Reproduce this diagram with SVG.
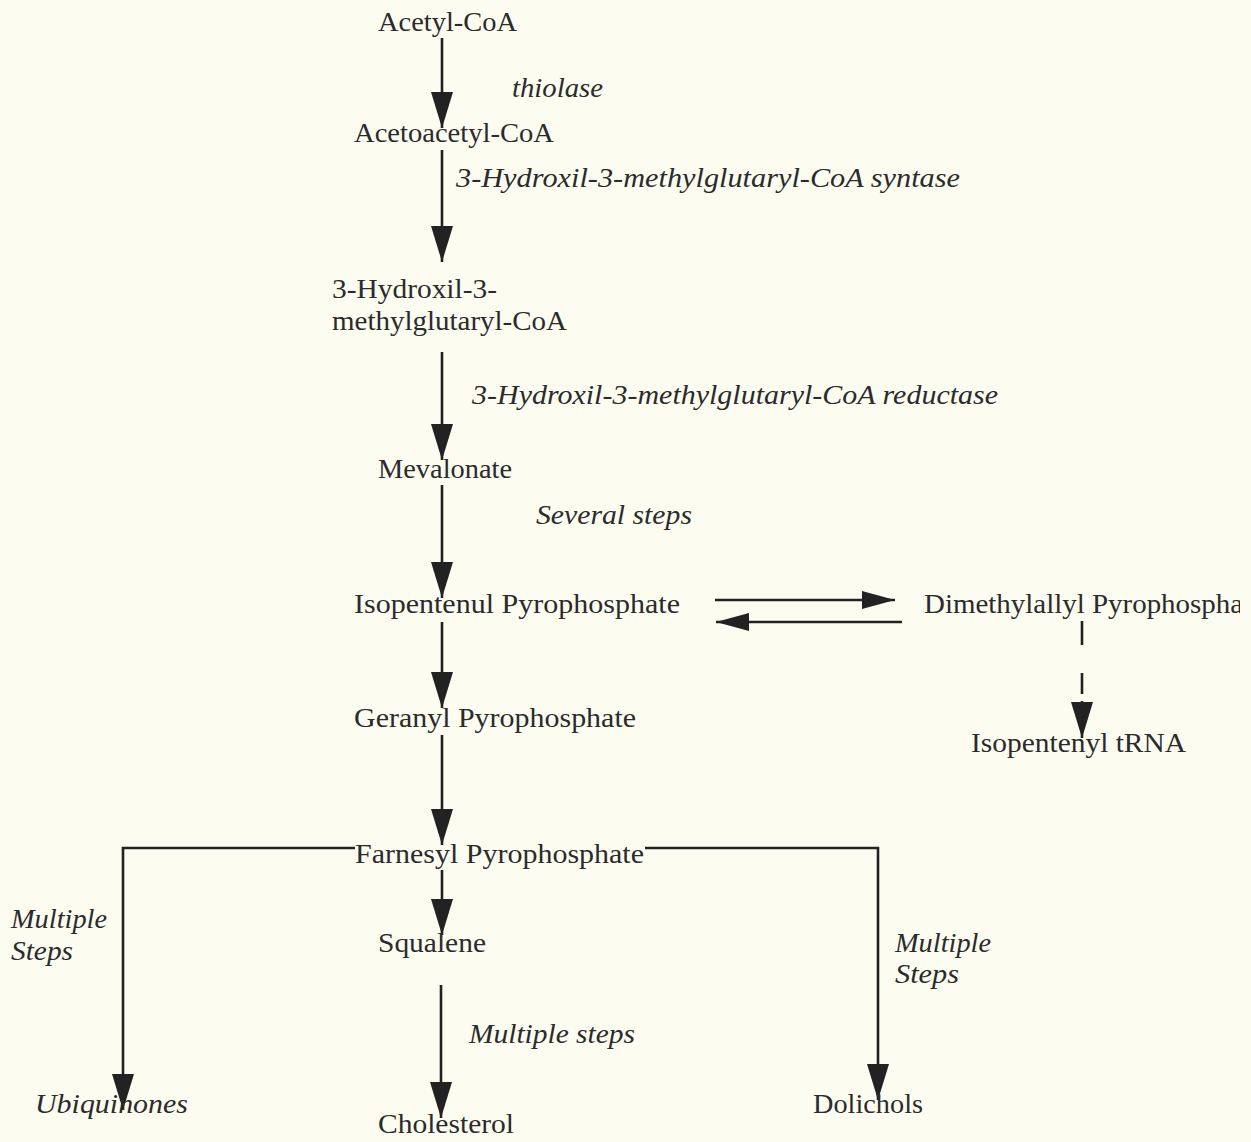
<svg xmlns="http://www.w3.org/2000/svg" width="1251" height="1142" viewBox="0 0 1251 1142">
<defs>
<style>
.n{font-family:"Liberation Serif","Times New Roman",serif;font-size:28px;fill:#2b2b2b}
.e{font-family:"Liberation Serif","Times New Roman",serif;font-size:27px;font-style:italic;fill:#2b2b2b}
.c{stroke:#222;stroke-width:2.6;fill:none}
.d{stroke-dasharray:24 28}
</style>
<marker id="ah" viewBox="0 -11 36 22" refX="36" refY="0" markerWidth="36" markerHeight="22" markerUnits="userSpaceOnUse" orient="auto">
<path d="M0,-11 L36,0 L0,11 z" fill="#222"/>
</marker>
<marker id="ahh" viewBox="0 -9 33 18" refX="33" refY="0" markerWidth="33" markerHeight="18" markerUnits="userSpaceOnUse" orient="auto">
<path d="M0,-9 L33,0 L0,9 z" fill="#222"/>
</marker>
<clipPath id="clipR"><rect x="0" y="0" width="1240" height="1142"/></clipPath>
</defs>
<rect x="0" y="0" width="1251" height="1142" fill="#fcfcf1"/>
<g id="connectors">
<line class="c" x1="442" y1="38" x2="442" y2="128" marker-end="url(#ah)"/>
<line class="c" x1="442" y1="150" x2="442" y2="262" marker-end="url(#ah)"/>
<line class="c" x1="442" y1="352" x2="442" y2="460" marker-end="url(#ah)"/>
<line class="c" x1="442" y1="485" x2="442" y2="598" marker-end="url(#ah)"/>
<line class="c" x1="442" y1="622" x2="442" y2="708" marker-end="url(#ah)"/>
<line class="c" x1="442" y1="735" x2="442" y2="845" marker-end="url(#ah)"/>
<line class="c" x1="442" y1="870" x2="442" y2="935" marker-end="url(#ah)"/>
<line class="c" x1="441" y1="985" x2="441" y2="1118" marker-end="url(#ah)"/>
<line class="c" x1="715" y1="600" x2="895" y2="600" marker-end="url(#ahh)"/>
<line class="c" x1="902" y1="622" x2="716" y2="622" marker-end="url(#ahh)"/>
<line class="c d" x1="1082" y1="621" x2="1082" y2="694"/>
<path class="c" d="M1082,701 L1082,738" marker-end="url(#ah)"/>
<path class="c" d="M355,848 L123,848 L123,1110" marker-end="url(#ah)"/>
<path class="c" d="M645,848 L878,848 L878,1100" marker-end="url(#ah)"/>
</g>
<g id="acetyl-coa"><text class="n" x="378" y="31" textLength="139" lengthAdjust="spacingAndGlyphs">Acetyl-CoA</text></g>
<g id="thiolase"><text class="e" x="512" y="97" textLength="91" lengthAdjust="spacingAndGlyphs">thiolase</text></g>
<g id="acetoacetyl-coa"><text class="n" x="354" y="142" textLength="200" lengthAdjust="spacingAndGlyphs">Acetoacetyl-CoA</text></g>
<g id="hmg-syntase"><text class="e" x="456" y="187" textLength="504" lengthAdjust="spacingAndGlyphs">3-Hydroxil-3-methylglutaryl-CoA syntase</text></g>
<g id="hmg-coa"><text class="n" x="332" y="298" textLength="165" lengthAdjust="spacingAndGlyphs">3-Hydroxil-3-</text><text class="n" x="332" y="330" textLength="235" lengthAdjust="spacingAndGlyphs">methylglutaryl-CoA</text></g>
<g id="hmg-reductase"><text class="e" x="472" y="404" textLength="526" lengthAdjust="spacingAndGlyphs">3-Hydroxil-3-methylglutaryl-CoA reductase</text></g>
<g id="mevalonate"><text class="n" x="378" y="478" textLength="134" lengthAdjust="spacingAndGlyphs">Mevalonate</text></g>
<g id="several-steps"><text class="e" x="536" y="524" textLength="156" lengthAdjust="spacingAndGlyphs">Several steps</text></g>
<g id="ipp"><text class="n" x="354" y="613" textLength="326" lengthAdjust="spacingAndGlyphs">Isopentenul Pyrophosphate</text></g>
<g id="dmapp"><text class="n" x="924" y="613" textLength="340" lengthAdjust="spacingAndGlyphs" clip-path="url(#clipR)">Dimethylallyl Pyrophosphate</text></g>
<g id="isopentenyl-trna"><text class="n" x="971" y="752" textLength="215" lengthAdjust="spacingAndGlyphs">Isopentenyl tRNA</text></g>
<g id="gpp"><text class="n" x="354" y="727" textLength="282" lengthAdjust="spacingAndGlyphs">Geranyl Pyrophosphate</text></g>
<g id="fpp"><text class="n" x="355" y="863" textLength="289" lengthAdjust="spacingAndGlyphs">Farnesyl Pyrophosphate</text></g>
<g id="squalene"><text class="n" x="378" y="952" textLength="108" lengthAdjust="spacingAndGlyphs">Squalene</text></g>
<g id="ms-left"><text class="e" x="11" y="928" textLength="96" lengthAdjust="spacingAndGlyphs">Multiple</text><text class="e" x="11" y="960" textLength="62" lengthAdjust="spacingAndGlyphs">Steps</text></g>
<g id="ms-right"><text class="e" x="895" y="952" textLength="96" lengthAdjust="spacingAndGlyphs">Multiple</text><text class="e" x="895" y="983" textLength="64" lengthAdjust="spacingAndGlyphs">Steps</text></g>
<g id="ms-center"><text class="e" x="469" y="1043" textLength="166" lengthAdjust="spacingAndGlyphs">Multiple steps</text></g>
<g id="ubiquinones"><text class="e" x="35" y="1113" textLength="153" lengthAdjust="spacingAndGlyphs">Ubiquinones</text></g>
<g id="cholesterol"><text class="n" x="378" y="1133" textLength="136" lengthAdjust="spacingAndGlyphs">Cholesterol</text></g>
<g id="dolichols"><text class="n" x="813" y="1113" textLength="110" lengthAdjust="spacingAndGlyphs">Dolichols</text></g>
</svg>
